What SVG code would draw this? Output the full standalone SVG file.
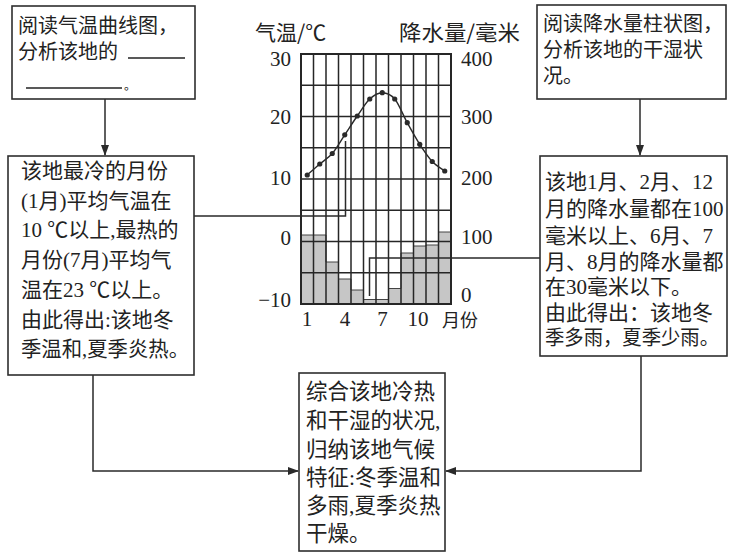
<svg xmlns="http://www.w3.org/2000/svg" width="732" height="554" viewBox="0 0 732 554">
<defs>
<marker id="arr" markerUnits="userSpaceOnUse" markerWidth="11" markerHeight="8" refX="10" refY="4" orient="auto">
<path d="M0,0 L11,4 L0,8 z" fill="#2a2a2a"/>
</marker>
</defs>
<style>
.box{fill:#fff;stroke:#2e2e2e;stroke-width:1.6}
.t{font-family:"Liberation Serif","Noto Sans CJK SC",serif;fill:#222}
.b20{font-size:20px}
.b21{font-size:21px}
.b215{font-size:21.5px}
.ax{font-family:"Liberation Serif","Noto Sans CJK SC",serif;fill:#222;font-size:21px}
.ttl{font-family:"Noto Sans CJK SC",sans-serif;fill:#222;font-size:21px}
.conn{fill:none;stroke:#2a2a2a;stroke-width:1.5}
.grid{stroke:#262626;stroke-width:1.5}
.bar{fill:#c6c6c6}
.ul{stroke:#222;stroke-width:1.5}
</style>
<rect width="732" height="554" fill="#fff"/>

<g id="chart">
<g id="bars">
<rect class="bar" x="301" y="235" width="12.5" height="69"/>
<rect class="bar" x="313.5" y="235" width="12.5" height="69"/>
<rect class="bar" x="326" y="262" width="12.5" height="42"/>
<rect class="bar" x="338.5" y="279" width="12.5" height="25"/>
<rect class="bar" x="351" y="290" width="12.5" height="14"/>
<rect class="bar" x="363.5" y="299.5" width="12.5" height="4.5"/>
<rect class="bar" x="376" y="299.5" width="12.5" height="4.5"/>
<rect class="bar" x="388.5" y="288.5" width="12.5" height="15.5"/>
<rect class="bar" x="401" y="253" width="12.5" height="51"/>
<rect class="bar" x="413.5" y="246" width="12.5" height="58"/>
<rect class="bar" x="426" y="245" width="12.5" height="59"/>
<rect class="bar" x="438.5" y="232" width="12.5" height="72"/>
<path d="M301,235H326V262H338.5V279H351V290H363.5V299.5H388.5V288.5H401V253H413.5V246H426V245H438.5V232H451" fill="none" stroke="#444" stroke-width="1"/>
</g>
<g id="grid" class="grid">
<path d="M313.5,54V304M326,54V304M338.5,54V304M351,54V304M363.5,54V304M376,54V304M388.5,54V304M401,54V304M413.5,54V304M426,54V304M438.5,54V304"/>
<path d="M301,85.25H451M301,116.5H451M301,147.75H451M301,179H451M301,210.25H451M301,241.5H451M301,272.75H451"/>
<rect x="301" y="54" width="150" height="250" fill="none" stroke-width="2"/>
</g>
<g id="temp">
<path d="M307.25,175 C309.33,173.17 315.58,167.58 319.75,164 C323.92,160.42 328.08,158.37 332.25,153.5 C336.42,148.63 340.58,141.05 344.75,134.8 C348.92,128.55 353.08,121.97 357.25,116 C361.42,110.03 365.58,102.88 369.75,99 C373.92,95.12 378.08,92.7 382.25,92.7 C386.42,92.7 390.58,94 394.75,99 C398.92,104 403.08,115.15 407.25,122.7 C411.42,130.25 415.58,137.830 419.75,144.3 C423.92,150.77 428.08,157.05 432.25,161.5 C436.42,165.95 442.67,169.42 444.75,171" fill="none" stroke="#2a2a2a" stroke-width="1.4"/>
<g fill="#2a2a2a">
<circle cx="307.25" cy="175" r="2.6"/><circle cx="319.75" cy="164" r="2.6"/><circle cx="332.25" cy="153.5" r="2.6"/><circle cx="344.75" cy="134.8" r="2.6"/><circle cx="357.25" cy="116" r="2.6"/><circle cx="369.75" cy="99" r="2.6"/><circle cx="382.25" cy="92.7" r="2.6"/><circle cx="394.75" cy="99" r="2.6"/><circle cx="407.25" cy="122.7" r="2.6"/><circle cx="419.75" cy="144.3" r="2.6"/><circle cx="432.25" cy="161.5" r="2.6"/><circle cx="444.75" cy="171" r="2.6"/>
</g>
</g>
<g id="axis-labels">
<text class="ttl" x="255" y="40">气温/℃</text>
<text class="ttl" x="399" y="40" textLength="121" lengthAdjust="spacingAndGlyphs">降水量/毫米</text>
<g class="ax" text-anchor="end">
<text x="291" y="66">30</text>
<text x="291" y="124">20</text>
<text x="291" y="185">10</text>
<text x="291" y="245">0</text>
<text x="291" y="307">−10</text>
</g>
<g class="ax">
<text x="461" y="66">400</text>
<text x="461" y="124">300</text>
<text x="461" y="185">200</text>
<text x="461" y="244">100</text>
<text x="461" y="302">0</text>
</g>
<g class="ax" text-anchor="middle">
<text x="307" y="326">1</text>
<text x="345" y="326">4</text>
<text x="382.5" y="326">7</text>
<text x="418" y="326">10</text>
</g>
<text class="t" x="442" y="327" font-size="18px">月份</text>
</g>
</g>

<g id="connectors">
<path class="conn" d="M105,99V155" marker-end="url(#arr)"/>
<path class="conn" d="M640,99V155" marker-end="url(#arr)"/>
<path class="conn" d="M93,375V471H298" marker-end="url(#arr)"/>
<path class="conn" d="M641,356V471H446" marker-end="url(#arr)"/>
<path class="conn" d="M194,216H345.5V141"/>
<path class="conn" d="M540,258H369.5V296"/>
</g>

<g id="node-temp-read">
<rect class="box" x="12" y="6" width="183" height="93"/>
<text class="t b20" x="18" y="33">阅读气温曲线图，</text>
<text class="t b20" x="18" y="59">分析该地的</text>
<line class="ul" x1="128" y1="58" x2="185" y2="58"/>
<line class="ul" x1="26" y1="88" x2="122" y2="88"/>
<text class="t" x="124" y="90" font-size="12px">。</text>
</g>

<g id="node-precip-read">
<rect class="box" x="537" y="5" width="189" height="94"/>
<text class="t b20" x="543" y="31">阅读降水量柱状图，</text>
<text class="t b20" x="543" y="57">分析该地的干湿状</text>
<text class="t b20" x="543" y="83">况。</text>
</g>

<g id="node-temp-result">
<rect class="box" x="8" y="156" width="186" height="219"/>
<text class="t b21" x="21" y="178">该地最冷的月份</text>
<text class="t b21" x="21" y="208">(1月)平均气温在</text>
<text class="t b21" x="21" y="237">10 ℃以上,最热的</text>
<text class="t b21" x="21" y="267">月份(7月)平均气</text>
<text class="t b21" x="21" y="297">温在23 ℃以上。</text>
<text class="t b21" x="21" y="327">由此得出:该地冬</text>
<text class="t b21" x="21" y="356" textLength="168" lengthAdjust="spacingAndGlyphs">季温和,夏季炎热。</text>
</g>

<g id="node-precip-result">
<rect class="box" x="540" y="156" width="187" height="200"/>
<text class="t b21" x="545" y="189">该地1月、2月、12</text>
<text class="t b21" x="545" y="216">月的降水量都在100</text>
<text class="t b21" x="545" y="243">毫米以上、6月、7</text>
<text class="t b21" x="545" y="269">月、8月的降水量都</text>
<text class="t b21" x="545" y="294">在30毫米以下。</text>
<text class="t b21" x="545" y="320">由此得出：该地冬</text>
<text class="t" x="545" y="345" font-size="20.5px" textLength="174" lengthAdjust="spacingAndGlyphs">季多雨，夏季少雨。</text>
</g>

<g id="node-summary">
<rect class="box" x="299" y="373" width="146" height="178"/>
<text class="t b215" x="306" y="399">综合该地冷热</text>
<text class="t b215" x="306" y="428">和干湿的状况,</text>
<text class="t b215" x="306" y="457">归纳该地气候</text>
<text class="t b215" x="306" y="485">特征:冬季温和</text>
<text class="t b215" x="306" y="513">多雨,夏季炎热</text>
<text class="t b215" x="306" y="541">干燥。</text>
</g>
</svg>
